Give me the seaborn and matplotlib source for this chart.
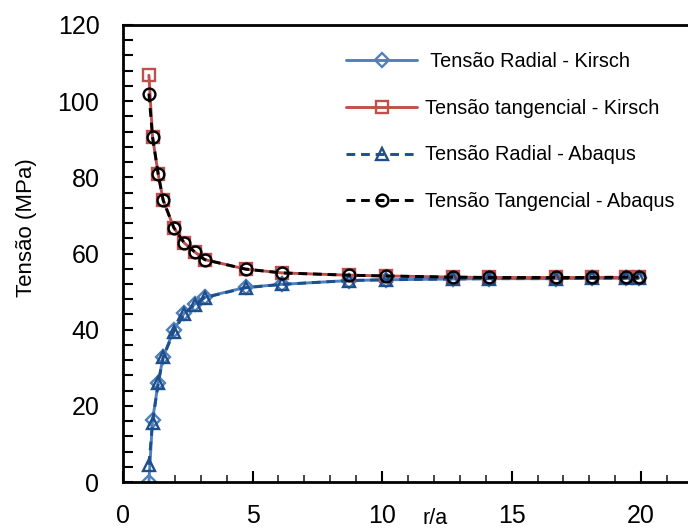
import matplotlib
matplotlib.use("Agg")
import matplotlib.pyplot as plt
import seaborn as sns
import pandas as pd
from matplotlib.ticker import MultipleLocator

# data
r_a = [1.0, 1.14, 1.36, 1.55, 1.96, 2.36, 2.77, 3.15, 4.73, 6.14,
       8.73, 10.14, 12.73, 14.14, 16.7, 18.1, 19.4, 19.9]
radial_kirsch = [0.0, 16.3, 26.1, 32.9, 39.9, 44.3, 46.7, 48.5, 51.1, 51.9,
                 52.9, 53.1, 53.3, 53.4, 53.4, 53.5, 53.5, 53.5]
tang_kirsch = [106.8, 90.6, 80.8, 74.0, 66.8, 62.8, 60.4, 58.4, 55.9, 54.9,
               54.3, 54.1, 53.8, 53.7, 53.7, 53.7, 53.7, 53.7]
radial_abaqus = [4.5, 15.6, 26.0, 32.7, 39.5, 44.1, 46.6, 48.4, 51.0, 51.9,
                 52.9, 53.1, 53.3, 53.4, 53.4, 53.5, 53.5, 53.5]
tang_abaqus = [102.0, 90.6, 80.8, 74.0, 66.8, 62.8, 60.4, 58.4, 55.9, 54.9,
               54.3, 54.1, 53.8, 53.7, 53.7, 53.7, 53.8, 53.8]
labels = [" Tensão Radial - Kirsch", "Tensão tangencial - Kirsch",
          "Tensão Radial - Abaqus", "Tensão Tangencial - Abaqus"]
x_label = "r/a"
y_label = "Tensão (MPa)"

sns.set_theme(style="ticks")
plt.rcParams["font.family"] = ["Liberation Sans", "DejaVu Sans"]
plt.rcParams["text.color"] = "black"
plt.rcParams["axes.labelcolor"] = "black"

fig = plt.figure(figsize=(6.88, 5.31), dpi=100)
ax = fig.add_axes([123/688, 49/531, 570/688, 457/531])

styles = [
    dict(color="#4F81BD", marker="D", markersize=7.5, linestyle="-"),
    dict(color="#C0504D", marker="s", markersize=8.5, linestyle="-"),
    dict(color="#1F4E8C", marker="^", markersize=9, linestyle=(0, (3, 2))),
    dict(color="#000000", marker="o", markersize=8.5, linestyle=(0, (3, 2))),
]
series = [radial_kirsch, tang_kirsch, radial_abaqus, tang_abaqus]
for vals, lab, st in zip(series, labels, styles):
    df = pd.DataFrame({"x": r_a, "y": vals})
    sns.lineplot(data=df, x="x", y="y", ax=ax, sort=False, label=lab,
                 color=st["color"], linestyle=st["linestyle"], linewidth=2.1,
                 marker=st["marker"], markersize=st["markersize"],
                 markerfacecolor="none", markeredgecolor=st["color"],
                 markeredgewidth=1.7)

ax.set_xlim(0, 22)
ax.set_ylim(0, 120)
ax.xaxis.set_major_locator(MultipleLocator(5))
ax.xaxis.set_minor_locator(MultipleLocator(1))
ax.yaxis.set_major_locator(MultipleLocator(20))
ax.yaxis.set_minor_locator(MultipleLocator(4))
ax.tick_params(axis="x", which="major", direction="in", length=8, width=1.5,
               pad=16, labelsize=18, colors="black")
ax.tick_params(axis="x", which="minor", direction="in", length=5, width=1.2)
ax.tick_params(axis="y", which="both", direction="in", length=7, width=1.5,
               pad=17, labelsize=18, colors="black")
for s in ax.spines.values():
    s.set_linewidth(2)
    s.set_color("black")

ax.set_xlabel(x_label, fontsize=15.5, color="black")
ax.xaxis.set_label_coords((435 - 123) / 570, -0.056)
ax.set_ylabel(y_label, fontsize=16, color="black")
ax.yaxis.set_label_coords(-86 / 570, 0.556)

leg = ax.legend(loc="upper left", bbox_to_anchor=(328/688, 1 - 34/531),
                bbox_transform=fig.transFigure, frameon=False, fontsize=14.3,
                handlelength=3.6, labelspacing=1.40, handletextpad=0.4,
                labelcolor="black")

fig.savefig("out.png", dpi=100)
